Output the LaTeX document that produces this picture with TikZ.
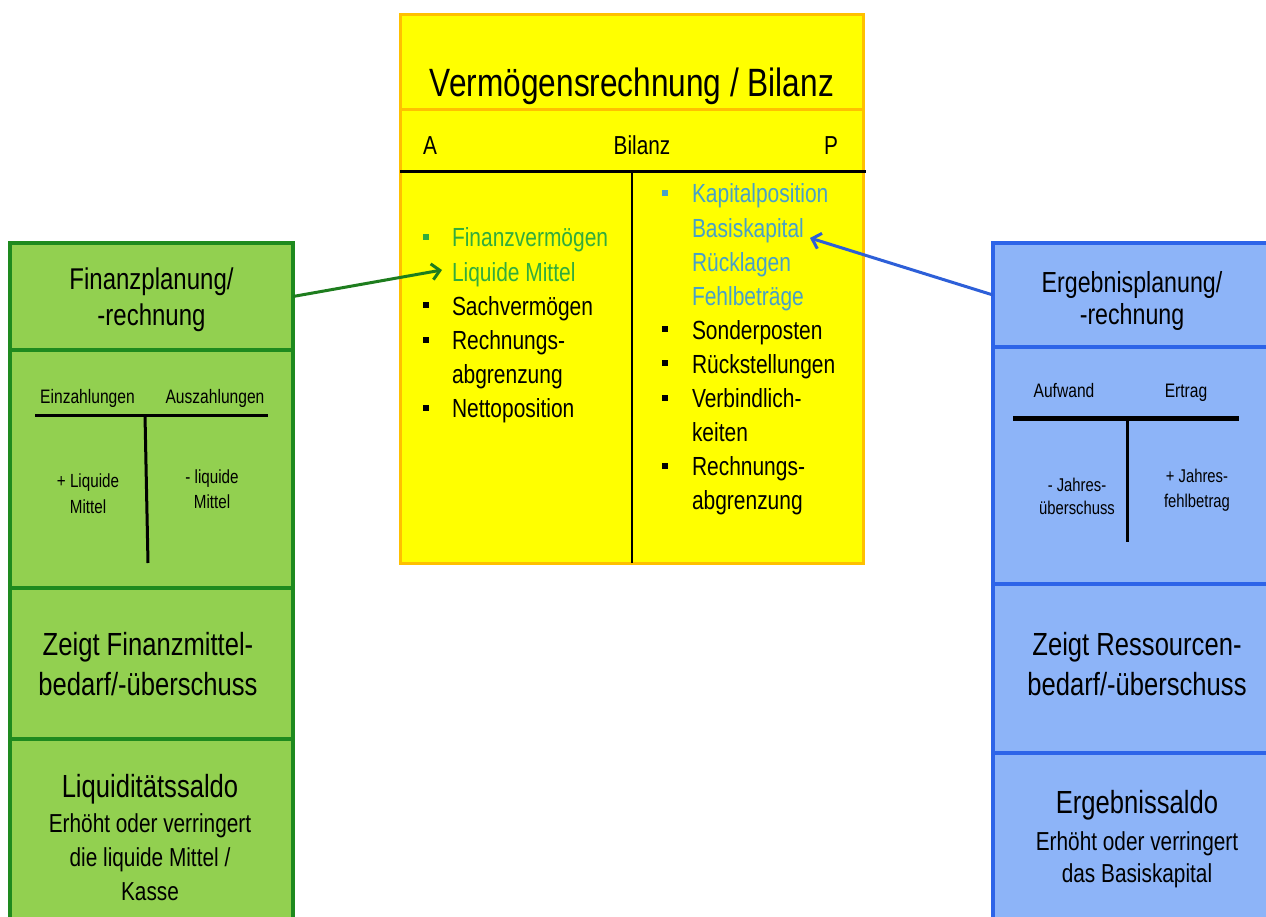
\documentclass[tikz,border=0pt]{standalone}
\usepackage{fontspec}
\setmainfont{Liberation Sans}[FakeStretch=0.8]
\usetikzlibrary{arrows.meta}
\definecolor{gfill}{HTML}{92D050}
\definecolor{gdraw}{RGB}{30,138,30}
\definecolor{bfill}{RGB}{141,180,248}
\definecolor{bdraw}{RGB}{45,100,232}
\definecolor{yfill}{HTML}{FFFF00}
\definecolor{ydraw}{HTML}{FFC000}
\definecolor{gtxt}{RGB}{50,172,60}
\definecolor{btxt}{RGB}{72,160,200}
\definecolor{garrow}{RGB}{30,125,30}
\definecolor{barrow}{RGB}{45,95,216}
\newcommand\fsz[2]{\fontsize{#1}{#2}\selectfont}
\newcommand\mlc[1]{\begin{tabular}[t]{@{}c@{}}#1\end{tabular}}
\newcommand\bul[1]{\makebox[29pt][l]{\textcolor{#1}{\rule[7pt]{6pt}{6pt}}}}
\newcommand\bulr[1]{\makebox[30pt][l]{\textcolor{#1}{\rule[7pt]{6pt}{6pt}}}}
\tikzset{
  gsec/.style={draw=gdraw, fill=gfill, line width=4pt, inner sep=0pt, outer sep=0pt, minimum width=283pt},
  bsec/.style={draw=bdraw, fill=bfill, line width=4pt, inner sep=0pt, outer sep=0pt, minimum width=282pt},
  ysec/.style={draw=ydraw, fill=yfill, line width=3pt, inner sep=0pt, outer sep=0pt, minimum width=463pt},
  txt/.style={inner sep=0pt, outer sep=0pt, anchor=base, text=black},
  tline/.style={line width=3pt, black},
  link/.style={line width=3pt, -{Straight Barb[length=8pt,width=16pt]}}
}
\begin{document}
\begin{tikzpicture}[x=1pt,y=-1pt]
\clip (0,0) rectangle (1266,917);
\fill[white] (0,0) rectangle (1266,917);

% ---------- yellow box ----------
\node[ysec, minimum height=95pt] (ytitle) at (631.5,62.5) {};
\node[ysec, minimum height=453pt] (ybody) at (631.5,336.5) {};
\node[txt] (ytt) at (632,97) {\fsz{39.5}{44}Vermögensrechnung / Bilanz};
\node[txt, anchor=base west] (ya) at (423,155) {\fsz{26}{30}A};
\node[txt] (yb) at (642,155) {\fsz{26}{30}Bilanz};
\node[txt, anchor=base east] (yp) at (838,155) {\fsz{26}{30}P};
\draw[tline] (400,172) -- (866,172);
\draw[line width=2.5pt] (632,172) -- (632,563);
\node[txt, anchor=base west] (lcol) at (423,247) {\fsz{26.2}{34.2}\begin{tabular}[t]{@{}l@{}l@{}}
\bul{gtxt} & \textcolor{gtxt}{Finanzvermögen}\\
 & \textcolor{gtxt}{Liquide Mittel}\\
\bul{black} & Sachvermögen\\
\bul{black} & Rechnungs-\\
 & abgrenzung\\
\bul{black} & Nettoposition
\end{tabular}};
\node[txt, anchor=base west] (rcol) at (662,203) {\fsz{26.2}{34.1}\begin{tabular}[t]{@{}l@{}l@{}}
\bulr{btxt} & \textcolor{btxt}{Kapitalposition}\\
 & \textcolor{btxt}{Basiskapital}\\
 & \textcolor{btxt}{Rücklagen}\\
 & \textcolor{btxt}{Fehlbeträge}\\
\bulr{black} & Sonderposten\\
\bulr{black} & Rückstellungen\\
\bulr{black} & Verbindlich-\\
 & keiten\\
\bulr{black} & Rechnungs-\\
 & abgrenzung
\end{tabular}};
\coordinate (liq) at (442,270);
\coordinate (bas) at (810,238);

% ---------- green box ----------
\node[gsec, minimum height=107pt] (gtitle) at (151.5,296.5) {};
\node[gsec, minimum height=238pt] (gtacc) at (151.5,469) {};
\node[gsec, minimum height=151pt] (gshow) at (151.5,663.5) {};
\node[gsec, minimum height=221pt] (gsaldo) at (151.5,849.5) {};
\node[txt] (gtt) at (151.5,290) {\fsz{30}{36}\mlc{Finanzplanung/\\-rechnung}};
\node[txt] (gein) at (87.5,403) {\fsz{19.5}{24}Einzahlungen};
\node[txt] (gaus) at (215,403) {\fsz{19.5}{24}Auszahlungen};
\draw[tline] (35,415) -- (268,415);
\draw[tline] (145,415) -- (148,563);
\node[txt] (gplus) at (88,487) {\fsz{19}{26}\mlc{+ Liquide\\Mittel}};
\node[txt] (gminus) at (212,483) {\fsz{19}{25}\mlc{- liquide\\Mittel}};
\node[txt] (gzt) at (148,655) {\fsz{32}{40}\mlc{Zeigt Finanzmittel-\\bedarf/-überschuss}};
\node[txt] (gst) at (150,797) {\fsz{32}{38}Liquiditätssaldo};
\node[txt] (gsd) at (150,832) {\fsz{26}{34}\mlc{Erhöht oder verringert\\die liquide Mittel /\\Kasse}};

% ---------- blue box ----------
\node[bsec, minimum height=104pt] (btitle) at (1134,295) {};
\node[bsec, minimum height=237pt] (btacc) at (1134,465.5) {};
\node[bsec, minimum height=169pt] (bshow) at (1134,668.5) {};
\node[bsec, minimum height=207pt] (bsaldo) at (1134,856.5) {};
\node[txt] (btt) at (1132,293) {\fsz{29}{32}\mlc{Ergebnisplanung/\\-rechnung}};
\node[txt] (bauf) at (1064,397) {\fsz{19.5}{24}Aufwand};
\node[txt] (bert) at (1186,397) {\fsz{19.5}{24}Ertrag};
\draw[line width=5pt] (1013,418) -- (1239,418);
\draw[tline] (1127,418) -- (1127,542);
\node[txt] (bminus) at (1077,491) {\fsz{18.5}{23}\mlc{- Jahres-\\überschuss}};
\node[txt] (bplus) at (1197,482) {\fsz{18.5}{25}\mlc{+ Jahres-\\fehlbetrag}};
\node[txt] (bzt) at (1137,655) {\fsz{32}{40}\mlc{Zeigt Ressourcen-\\bedarf/-überschuss}};
\node[txt] (bst) at (1137,813) {\fsz{32}{38}Ergebnissaldo};
\node[txt] (bsd) at (1137,850) {\fsz{26}{32}\mlc{Erhöht oder verringert\\das Basiskapital}};

% ---------- connectors ----------
\draw[link, garrow] (gtitle.east) -- (liq);
\draw[link, barrow] (btitle.west) -- (bas);
\end{tikzpicture}
\end{document}
